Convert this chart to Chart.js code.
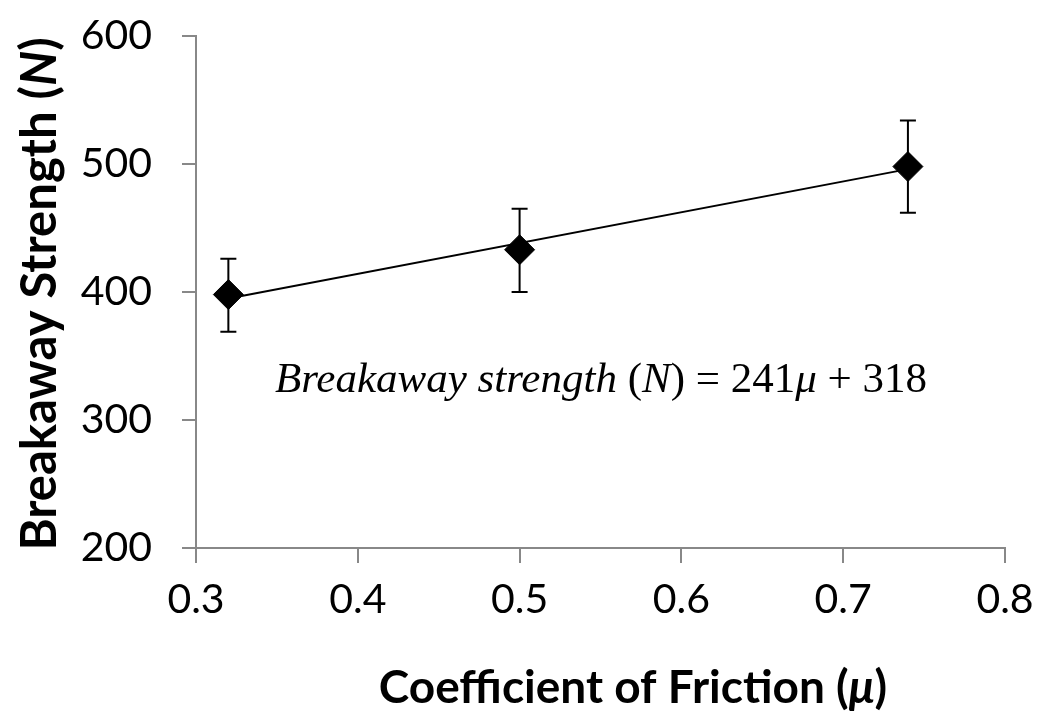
<!DOCTYPE html>
<html>
<head>
<meta charset="utf-8">
<script src="https://cdn.jsdelivr.net/npm/chart.js@4.4.1/dist/chart.umd.min.js"></script>
<style>
  html, body { margin: 0; padding: 0; background: #fff; }
  #wrap { width: 1050px; height: 726px; }
</style>
</head>
<body>
<div id="wrap"><canvas id="chart"></canvas></div>
<script>
// values
const friction = [0.32, 0.5, 0.74];
const strength = [398, 433, 498];
const errHigh = [426, 465, 534];
const errLow = [369, 400, 462];
const trendX = [0.32, 0.74];
const trendY = [395, 496];
const xTicks = [0.3, 0.4, 0.5, 0.6, 0.7, 0.8];
const yTicks = [200, 300, 400, 500, 600];

const axisGray = '#888888';

// error bars drawn through the scales
const errorBars = {
    id: 'errorBars',
    afterDatasetsDraw(chart) {
        const ctx = chart.ctx;
        const xs = chart.scales.x, ys = chart.scales.y;
        ctx.save();
        ctx.strokeStyle = '#000';
        ctx.lineWidth = 2;
        for (let i = 0; i < friction.length; i++) {
            const px = xs.getPixelForValue(friction[i]);
            const top = ys.getPixelForValue(errHigh[i]);
            const bot = ys.getPixelForValue(errLow[i]);
            ctx.beginPath();
            ctx.moveTo(px, top); ctx.lineTo(px, bot);
            ctx.moveTo(px - 8, top); ctx.lineTo(px + 8, top);
            ctx.moveTo(px - 8, bot); ctx.lineTo(px + 8, bot);
            ctx.stroke();
        }
        ctx.restore();
    }
};

// draws pieces of text with their own fonts one after another
const drawRun = (ctx, parts, x, y) => {
    let w = 0;
    parts.forEach(p => { ctx.font = p.font; w += ctx.measureText(p.text).width; });
    let cx = x - w / 2;
    parts.forEach(p => {
        ctx.font = p.font;
        ctx.fillText(p.text, cx, y);
        cx += ctx.measureText(p.text).width;
    });
};

const labels = {
    id: 'labels',
    afterDraw(chart) {
        const ctx = chart.ctx;
        ctx.save();
        ctx.fillStyle = '#000';
        ctx.textBaseline = 'middle';
        ctx.textAlign = 'left';
        const b = 'bold 46px Lato';
        const bi = 'italic bold 46px Lato';
        drawRun(ctx, [
            { text: 'Coefficient of Friction (', font: b },
            { text: 'μ', font: bi },
            { text: ')', font: b }
        ], 633, 688);

        const b2 = 'bold 49px Lato';
        const bi2 = 'italic bold 49px Lato';
        ctx.translate(40, 294);
        ctx.rotate(-Math.PI / 2);
        drawRun(ctx, [
            { text: 'Breakaway Strength (', font: b2 },
            { text: 'N', font: bi2 },
            { text: ')', font: b2 }
        ], 0, 0);
        ctx.restore();

        // equation
        ctx.save();
        ctx.fillStyle = '#000';
        ctx.textBaseline = 'alphabetic';
        ctx.textAlign = 'left';
        const it = 'italic 43px "Liberation Serif"';
        const rm = '43px "Liberation Serif"';
        drawRun(ctx, [
            { text: 'Breakaway strength ', font: it },
            { text: '(', font: rm },
            { text: 'N', font: it },
            { text: ') = 241', font: rm },
            { text: 'μ', font: it },
            { text: ' + 318', font: rm }
        ], 601, 392);
        ctx.restore();
    }
};

const ctx = document.getElementById('chart');
new Chart(ctx, {
    type: 'scatter',
    data: {
        datasets: [{
            label: 'trend',
            type: 'line',
            data: trendX.map((x, i) => ({ x: x, y: trendY[i] })),
            borderColor: '#000',
            borderWidth: 2,
            pointRadius: 0,
            fill: false
        }, {
            label: 'strength',
            data: friction.map((x, i) => ({ x: x, y: strength[i] })),
            pointStyle: 'rectRot',
            pointRadius: 15,
            backgroundColor: '#000',
            borderColor: '#000',
            borderWidth: 1
        }]
    },
    options: {
        responsive: true,
        maintainAspectRatio: false,
        animation: false,
        layout: { padding: { top: 36, right: 45, left: 0, bottom: 0 } },
        plugins: { legend: { display: false }, tooltip: { enabled: false } },
        scales: {
            x: {
                type: 'linear',
                min: 0.3, max: 0.8,
                afterBuildTicks: s => { s.ticks = xTicks.map(v => ({ value: v })); },
                afterFit: s => { s.height = 178; s.paddingLeft = 0; s.paddingRight = 0; },
                grid: { drawOnChartArea: false, tickLength: 15, color: axisGray, lineWidth: 2 },
                border: { color: axisGray, width: 2 },
                ticks: {
                    color: '#000', padding: 12,
                    font: { family: 'Lato', size: 41 },
                    callback: v => v.toFixed(1)
                }
            },
            y: {
                min: 200, max: 600,
                afterBuildTicks: s => { s.ticks = yTicks.map(v => ({ value: v })); },
                afterFit: s => { s.width = 196; s.paddingTop = 0; s.paddingBottom = 0; },
                grid: { drawOnChartArea: false, tickLength: 14, color: axisGray, lineWidth: 2 },
                border: { color: axisGray, width: 2 },
                ticks: {
                    color: '#000', padding: 30,
                    font: { family: 'Lato', size: 41 }
                }
            }
        }
    },
    plugins: [errorBars, labels]
});
</script>
</body>
</html>
